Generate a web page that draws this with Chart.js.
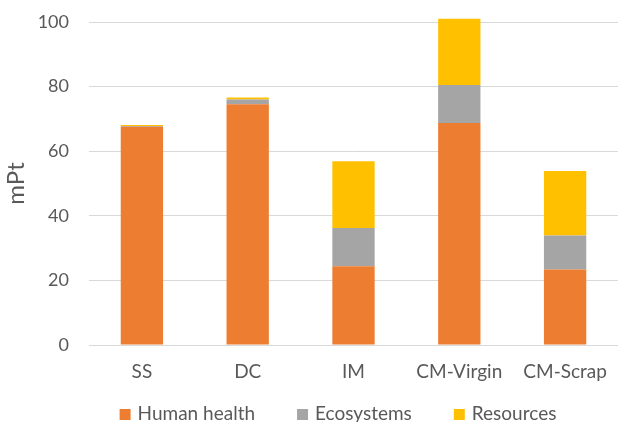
<!DOCTYPE html>
<html>
<head>
<meta charset="utf-8">
<script src="https://cdn.jsdelivr.net/npm/chart.js@4"></script>
<style>
  html, body { margin: 0; padding: 0; background: #ffffff; }
  #wrap { width: 618px; height: 422px; position: relative; }
</style>
</head>
<body>
<div id="wrap"><canvas id="chart" width="618" height="422"></canvas></div>
<script>
// Damage scores per process (mPt), split by endpoint category
const categories = ['SS', 'DC', 'IM', 'CM-Virgin', 'CM-Scrap'];
const humanHealth = [67.6, 74.5, 24.4, 68.7, 23.4];
const ecosystems = [0.2, 1.5, 11.8, 11.8, 10.5];
const resources = [0.3, 0.6, 20.7, 20.5, 20.0];
const yTicks = [0, 20, 40, 60, 80, 100];

const seriesNames = ['Human health', 'Ecosystems', 'Resources'];
const seriesColors = ['#ED7D31', '#A5A5A5', '#FFC000'];
const textColor = '#595959';
const gridColor = '#D9D9D9';
const fontFamily = 'Lato, "Open Sans", sans-serif';

// Plot area runs slightly past the right edge of the canvas
const rightBleed = -3;

// Legend drawn along the bottom, centred as a row of square swatches
const bottomLegend = {
  id: 'bottomLegend',
  afterDraw(chart) {
    const ctx = chart.ctx;
    const sets = chart.data.datasets;
    const box = 11, gapText = 7, gapItem = 42, baseline = 420, centerX = 338;
    ctx.save();
    ctx.font = '19px ' + fontFamily;
    const widths = sets.map(d => ctx.measureText(d.label).width);
    const total = widths.reduce((s, w) => s + box + gapText + w, 0) + gapItem * (sets.length - 1);
    let x = centerX - total / 2;
    sets.forEach((d, i) => {
      ctx.fillStyle = d.backgroundColor;
      ctx.fillRect(x, baseline - box, box, box);
      x += box + gapText;
      ctx.fillStyle = textColor;
      ctx.textBaseline = 'alphabetic';
      ctx.textAlign = 'left';
      ctx.fillText(d.label, x, baseline);
      x += widths[i] + gapItem;
    });
    ctx.restore();
  }
};

const seriesValues = [humanHealth, ecosystems, resources];

new Chart(document.getElementById('chart'), {
  type: 'bar',
  data: {
    labels: categories,
    datasets: seriesNames.map((name, i) => ({
      label: name,
      data: seriesValues[i],
      backgroundColor: seriesColors[i],
      borderWidth: 0,
      barPercentage: 0.4,
      categoryPercentage: 1.0,
      clip: false
    }))
  },
  options: {
    responsive: false,
    animation: false,
    devicePixelRatio: 1,
    layout: { padding: { top: 22, right: rightBleed, bottom: 0, left: 0 } },
    plugins: {
      legend: { display: false },
      tooltip: { enabled: false }
    },
    scales: {
      x: {
        stacked: true,
        grid: { display: false, drawTicks: false },
        border: { display: true, color: gridColor, width: 1 },
        ticks: {
          color: textColor,
          font: { family: fontFamily, size: 19 },
          padding: 15,
          maxRotation: 0,
          autoSkip: false
        },
        afterFit(scale) {
          scale.height = 77;
          scale.paddingLeft = 0;
          scale.paddingRight = rightBleed;
        }
      },
      y: {
        stacked: true,
        min: 0,
        max: 100,
        afterBuildTicks(scale) { scale.ticks = yTicks.map(v => ({ value: v })); },
        grid: { color: gridColor, lineWidth: 1, drawTicks: false },
        border: { display: false },
        ticks: {
          color: textColor,
          font: { family: fontFamily, size: 18 },
          padding: 20
        },
        title: {
          display: true,
          text: 'mPt',
          color: textColor,
          font: { family: fontFamily, size: 24 },
          padding: { top: 2, bottom: 0 }
        },
        afterFit(scale) {
          scale.width = 89;
          scale.paddingTop = 0;
          scale.paddingBottom = 0;
          scale.paddingLeft = 0;
          scale.paddingRight = rightBleed;
        }
      }
    }
  },
  plugins: [bottomLegend]
});
</script>
</body>
</html>
